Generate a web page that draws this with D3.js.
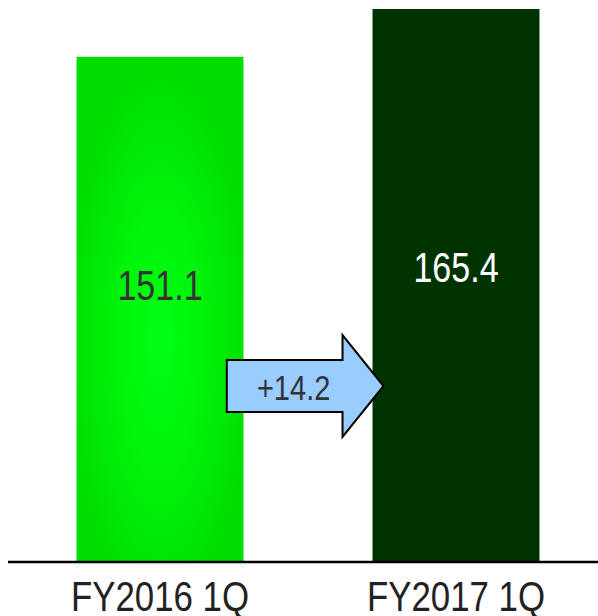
<!DOCTYPE html>
<html>
<head>
<meta charset="utf-8">
<script src="https://cdn.jsdelivr.net/npm/d3@7"></script>
<style>
  html, body { margin: 0; padding: 0; background: #fff; }
  svg { display: block; }
  text { font-family: "Liberation Sans", Arial, sans-serif; }
</style>
</head>
<body>
<svg id="chart" width="598" height="616"></svg>
<script>
// Quarterly figures
const categories = ["FY2016 1Q", "FY2017 1Q"];
const values = [151.1, 165.4];
const changeLabel = "+14.2";

const W = 598, H = 616;
const narrow = 0.81; // horizontal squeeze for a condensed look
const svg = d3.select("#chart");

const x = d3.scaleBand()
  .domain(categories)
  .range([12, 604])
  .paddingInner(0.436)
  .paddingOuter(0.218);

const y = d3.scaleLinear()
  .domain([0, 166])
  .range([562, 7]);

// Soft glow on the first bar
const defs = svg.append("defs");
const grad = defs.append("radialGradient")
  .attr("id", "glow")
  .attr("cx", 0.5).attr("cy", 0.56).attr("r", 0.55);
grad.append("stop").attr("offset", "0%").attr("stop-color", "#00ff14");
grad.append("stop").attr("offset", "45%").attr("stop-color", "#00f50a");
grad.append("stop").attr("offset", "100%").attr("stop-color", "#00dd00");

const fills = ["url(#glow)", "#003300"];
const labelColors = ["#333333", "#ffffff"];
const labelShift = [-9, -4];

const data = categories.map((c, i) => ({ c, v: values[i], i }));

svg.selectAll("rect.bar")
  .data(data)
  .join("rect")
  .attr("class", "bar")
  .attr("x", d => x(d.c))
  .attr("y", d => y(d.v))
  .attr("width", x.bandwidth())
  .attr("height", d => y(0) - y(d.v))
  .attr("fill", d => fills[d.i]);

// Value labels inside the bars
svg.selectAll("text.val")
  .data(data)
  .join("text")
  .attr("class", "val")
  .attr("transform", d =>
    `translate(${x(d.c) + x.bandwidth() / 2},${y(d.v / 2) + labelShift[d.i]}) scale(${narrow},1)`)
  .attr("text-anchor", "middle")
  .attr("font-size", 42)
  .attr("fill", d => labelColors[d.i])
  .text(d => d.v.toFixed(1));

// Baseline
svg.append("line")
  .attr("x1", 8).attr("x2", W)
  .attr("y1", y(0)).attr("y2", y(0))
  .attr("stroke", "#000")
  .attr("stroke-width", 2.5);

// Category labels
const axis = d3.axisBottom(x).tickSize(0).tickPadding(0);
const gAxis = svg.append("g")
  .attr("transform", `translate(0,${y(0)})`)
  .call(axis);
gAxis.select(".domain").remove();
gAxis.selectAll("text")
  .attr("dy", null)
  .attr("y", 0)
  .attr("transform", `translate(0,49) scale(${narrow},1)`)
  .attr("font-size", 43)
  .attr("font-family", null)
  .attr("fill", "#222");

// Change arrow between the bars
const x0 = x(categories[0]) + x.bandwidth() * 0.9;
const xTip = x(categories[1]) + 11;
const xHead = xTip - 41;
const cy = 386;
const body = 26, head = 51;
const arrow = [
  [x0, cy - body], [xHead, cy - body], [xHead, cy - head], [xTip, cy],
  [xHead, cy + head], [xHead, cy + body], [x0, cy + body]
];
svg.append("path")
  .attr("d", d3.line()(arrow) + "Z")
  .attr("fill", "#99ccff")
  .attr("stroke", "#000")
  .attr("stroke-width", 2)
  .attr("stroke-linejoin", "miter");

svg.append("text")
  .attr("transform", `translate(${(x0 + xHead) / 2 + 9},${cy + 14}) scale(0.83,1)`)
  .attr("text-anchor", "middle")
  .attr("font-size", 35)
  .attr("fill", "#333333")
  .text(changeLabel);
</script>
</body>
</html>
